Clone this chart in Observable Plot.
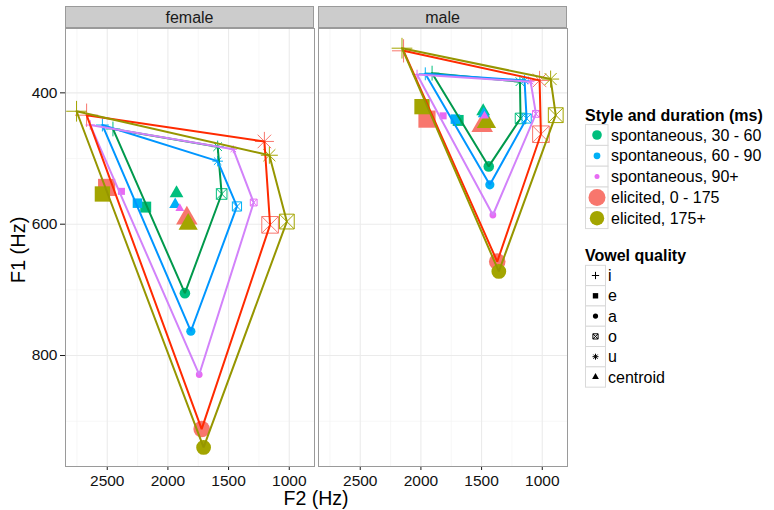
<!DOCTYPE html>
<html><head><meta charset="utf-8">
<script src="https://cdn.jsdelivr.net/npm/d3@7"></script>
<script src="https://cdn.jsdelivr.net/npm/@observablehq/plot@0.6"></script>
<style>
body{margin:0;background:#fff;font-family:"Liberation Sans",Arial,sans-serif}
#wrap{position:relative;width:774px;height:510px}
[aria-label="x-axis tick"],[aria-label="y-axis tick"]{stroke:#7f7f7f}
</style></head><body><div id="wrap"></div>
<script>
const genders = ["female", "male"];
const groups = ["spontaneous, 30 - 60", "spontaneous, 60 - 90", "spontaneous, 90+", "elicited, 0 - 175", "elicited, 175+"];
const vowels = ["i", "e", "a", "o", "u", "centroid"];
const pathVowels = ["i", "u", "o", "a", "i"];
const F2ticks = [2500, 2000, 1500, 1000];
const F2minor = [2750, 2250, 1750, 1250];
const F1ticks = [400, 600, 800];
const F1minor = [500, 700, 900];

// rows: groups; columns: i, e, a, o, u, centroid
const femaleF2 = [
  [2453, 2183, 1860, 1557, 1590, 1929],
  [2540, 2251, 1811, 1431, 1590, 1940],
  [2640, 2383, 1742, 1293, 1461, 1902],
  [2670, 2505, 1722, 1158, 1205, 1844],
  [2753, 2540, 1706, 1020, 1164, 1833]
];
const femaleF1 = [
  [455, 574, 705, 554, 482, 553],
  [449, 568, 763, 573, 504, 570],
  [449, 550, 829, 567, 486, 576],
  [434, 544, 912, 601, 474, 591],
  [428, 554, 940, 596, 495, 600]
];
const maleF2 = [
  [1908, 1693, 1441, 1179, 1184, 1487],
  [1964, 1716, 1432, 1129, 1146, 1482],
  [2032, 1817, 1407, 1052, 1096, 1476],
  [2143, 1950, 1371, 1011, 1022, 1495],
  [2156, 1991, 1358, 889, 931, 1460]
];
const maleF1 = [
  [370, 442, 512, 439, 383, 428],
  [371, 440, 540, 439, 381, 432],
  [372, 435, 586, 432, 383, 435],
  [336, 440, 657, 463, 381, 450],
  [332, 421, 672, 434, 379, 445]
];

// styles
const pointColors = ["#00BF7D", "#00B0F6", "#E76BF3", "#F8766D", "#A3A500"];
const lineColors = ["#00994C", "#0096FF", "#D282FA", "#FF2A00", "#969600"];
const groupRadius = [5.3, 4.6, 3.4, 8.3, 7.4];
const legendRadius = [4.8, 3.4, 2.5, 8.5, 7.2];

const F2 = {female: femaleF2, male: maleF2};
const F1 = {female: femaleF1, male: maleF1};

const rows = [];
genders.forEach(g => groups.forEach((grp, k) => vowels.forEach((v, j) =>
  rows.push({gender: g, group: grp, k, vowel: v, F2: F2[g][k][j], F1: F1[g][k][j]}))));
const pathRows = [];
genders.forEach(g => groups.forEach((grp, k) => pathVowels.forEach(v => {
  const j = vowels.indexOf(v);
  pathRows.push({gender: g, group: grp, k, F2: F2[g][k][j], F1: F1[g][k][j]});
})));

const R = s => Math.sqrt(s / Math.PI);
const symPlus = {draw(c, s) {const r = R(s) * 1.4; c.moveTo(-r, 0); c.lineTo(r, 0); c.moveTo(0, -r); c.lineTo(0, r);}};
const symSquare = {draw(c, s) {const r = R(s) * 1.035; c.moveTo(-r, -r); c.lineTo(r, -r); c.lineTo(r, r); c.lineTo(-r, r); c.closePath();}};
const symSqX = {draw(c, s) {const r = R(s); c.moveTo(-r, -r); c.lineTo(r, -r); c.lineTo(r, r); c.lineTo(-r, r); c.closePath(); c.moveTo(-r, -r); c.lineTo(r, r); c.moveTo(r, -r); c.lineTo(-r, r);}};
const symAst = {draw(c, s) {const r = R(s) * 1.15, q = r * Math.SQRT1_2; c.moveTo(-r, 0); c.lineTo(r, 0); c.moveTo(0, -r); c.lineTo(0, r); c.moveTo(-q, -q); c.lineTo(q, q); c.moveTo(q, -q); c.lineTo(-q, q);}};
const symTri = {draw(c, s) {const a = R(s) * 2.6, h = a * Math.sqrt(3) / 2; c.moveTo(0, -2 * h / 3); c.lineTo(a / 2, h / 3); c.lineTo(-a / 2, h / 3); c.closePath();}};
const symCircle = {draw(c, s) {const r = R(s); c.moveTo(r, 0); c.arc(0, 0, r, 0, 2 * Math.PI);}};

const vowelSymbols = {i: symPlus, e: symSquare, a: symCircle, o: symSqX, u: symAst, centroid: symTri};
const vowelFilled = {i: false, e: true, a: true, o: false, u: false, centroid: true};

const base = {fx: "gender", x: "F2", y: "F1", r: d => groupRadius[d.k]};
const dotMark = v => Plot.dot(rows.filter(d => d.vowel === v), {
  ...base, symbol: vowelSymbols[v],
  ...(vowelFilled[v] ? {fill: "group", stroke: "none"} : {stroke: "group", fill: "none", strokeWidth: 1})
});

const svg = Plot.plot({
  width: 774, height: 510,
  marginLeft: 65, marginRight: 207, marginTop: 28, marginBottom: 44,
  style: {fontFamily: "'Liberation Sans', Arial, sans-serif", fontSize: "15.5px", color: "#1a1a1a", background: "white"},
  fx: {domain: genders, paddingInner: 0.017, paddingOuter: 0, axis: null, label: null},
  x: {domain: [2844, 792], ticks: F2ticks, tickFormat: "d", tickSize: 4, tickPadding: 4, label: null},
  y: {domain: [302, 969], reverse: true, ticks: F1ticks, tickFormat: "d", tickSize: 5, tickPadding: 3, label: null},
  r: {type: "identity"},
  color: {domain: groups, range: pointColors},
  marks: [
    Plot.ruleX(F2minor, {stroke: "#f3f3f3", strokeWidth: 0.7}),
    Plot.ruleY(F1minor, {stroke: "#f3f3f3", strokeWidth: 0.7}),
    Plot.ruleX(F2ticks, {stroke: "#ebebeb", strokeWidth: 1.1}),
    Plot.ruleY(F1ticks, {stroke: "#ebebeb", strokeWidth: 1.1}),
    ...["e", "centroid", "a", "o", "i", "u"].map(dotMark),
    ...groups.map((grp, k) => Plot.line(pathRows.filter(d => d.k === k), {
      fx: "gender", x: "F2", y: "F1", stroke: lineColors[k], strokeWidth: 2, strokeLinejoin: "miter"
    })),
    Plot.frame({stroke: "#9a9a9a", strokeWidth: 1})
  ]
});

document.getElementById("wrap").appendChild(svg);
const s = d3.select(svg);
// tick labels: larger and dark
s.selectAll('[aria-label^="x-axis"] text, [aria-label^="y-axis"] text, .tick text')
  .attr("font-size", 15.5).style("font-size", "15.5px").attr("fill", "#111");

const fx = svg.scale("fx");
const bw = fx.bandwidth;

// strips
genders.forEach(g => {
  const x0 = fx.apply(g);
  s.append("rect").attr("x", x0 + 0.5).attr("y", 6.5).attr("width", bw - 1).attr("height", 21)
    .attr("fill", "#cccccc").attr("stroke", "#9a9a9a");
  s.append("text").attr("x", x0 + bw / 2).attr("y", 17).attr("dy", "0.35em")
    .attr("text-anchor", "middle").attr("font-size", 16).attr("fill", "#1a1a1a").text(g);
});

// axis titles
s.append("text").attr("x", 316).attr("y", 505).attr("text-anchor", "middle")
  .attr("font-size", 19.5).attr("fill", "#000").text("F2 (Hz)");
s.append("text").attr("transform", "translate(25,250) rotate(-90)").attr("text-anchor", "middle")
  .attr("font-size", 20).attr("fill", "#000").text("F1 (Hz)");

// legend 1
const lg = s.append("g").attr("font-size", 16).attr("fill", "#000").attr("text-anchor", "start");
lg.append("text").attr("x", 585).attr("y", 121).attr("font-weight", "bold").text("Style and duration (ms)");
groups.forEach((grp, k) => {
  const cy = 135 + k * 20.8;
  lg.append("rect").attr("x", 585.5).attr("y", cy - 10.4).attr("width", 22.5).attr("height", 20.8)
    .attr("fill", "#fff").attr("stroke", "#d9d9d9");
  lg.append("circle").attr("cx", 597).attr("cy", cy).attr("r", legendRadius[k]).attr("fill", pointColors[k]);
  lg.append("text").attr("x", 611).attr("y", cy).attr("dy", "0.35em").text(grp);
});
// legend 2
lg.append("text").attr("x", 585).attr("y", 260.5).attr("font-weight", "bold").text("Vowel quality");
vowels.forEach((v, j) => {
  const cy = 275.5 + j * 20.3;
  lg.append("rect").attr("x", 585.5).attr("y", cy - 10.15).attr("width", 20).attr("height", 20.3)
    .attr("fill", "#fff").attr("stroke", "#d9d9d9");
  const sz = Math.PI * 2.6 * 2.6;
  const p = d3.symbol(vowelSymbols[v], sz)();
  lg.append("path").attr("d", p).attr("transform", `translate(595.5,${cy})`)
    .attr("fill", vowelFilled[v] ? "#000" : "none").attr("stroke", vowelFilled[v] ? "none" : "#000").attr("stroke-width", 1);
  lg.append("text").attr("x", 608).attr("y", cy).attr("dy", "0.35em").text(v);
});
</script></body></html>
